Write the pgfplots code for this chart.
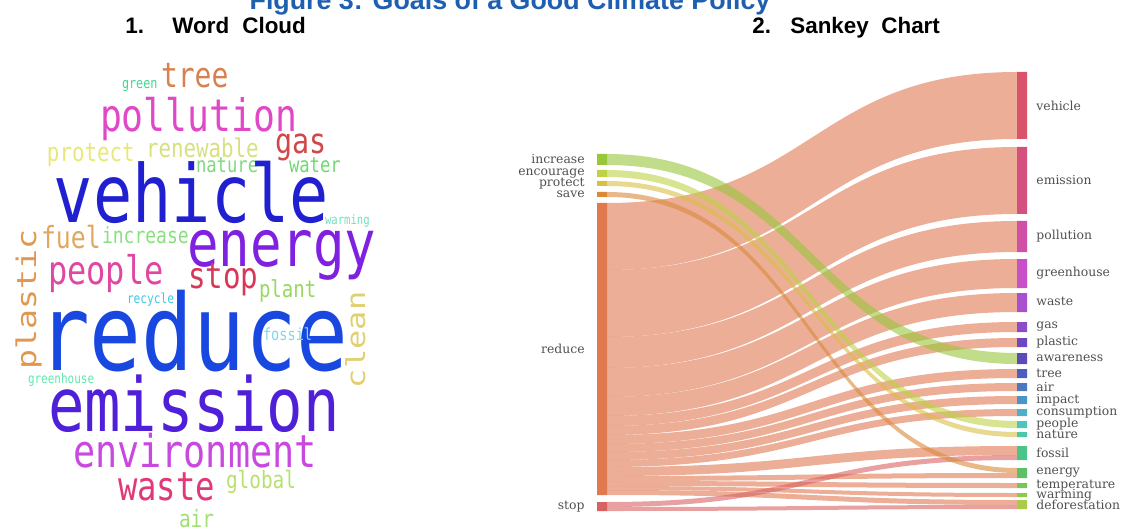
\documentclass[border=0pt]{standalone}
\usepackage{pgfplots}
\pgfplotsset{compat=1.18}
\usepackage{graphicx}
\usepackage{fontspec}
\setmainfont{Liberation Sans}
\newfontfamily\wcfont{DejaVu Sans Mono}
\newfontfamily\skfont{DejaVu Serif}

\definecolor{titleblue}{HTML}{1F5FAF}
\definecolor{labgray}{HTML}{505050}
% source nodes
\definecolor{cReduce}{HTML}{E07850}
\definecolor{cIncrease}{HTML}{9AC63C}
\definecolor{cEncourage}{HTML}{BED246}
\definecolor{cProtect}{HTML}{D9BE46}
\definecolor{cSave}{HTML}{D98939}
\definecolor{cStop}{HTML}{D96161}

% band from left node (x=607) to right node (x=1017), y in pixels
\newcommand\band[5]{%
  \fill[#5, fill opacity=0.6] (axis cs:607,#1) .. controls (axis cs:812,#1) and (axis cs:812,#3) .. (axis cs:1017,#3)
    -- (axis cs:1017,#4) .. controls (axis cs:812,#4) and (axis cs:812,#2) .. (axis cs:607,#2) -- cycle;}
% node bar: x0 x1 top bottom colour
\newcommand\nodebar[5]{%
  \xglobal\definecolor{nb#1x#3}{HTML}{#5}%
  \addplot[draw=none, fill=nb#1x#3] coordinates {(#1,#3) (#2,#3) (#2,#4) (#1,#4) (#1,#3)};}
\newcommand\rlab[2]{\node[anchor=west, inner sep=0pt, text=labgray, font=\skfont\fontsize{6.2}{7}\selectfont] at (axis cs:1036,#1) {#2};}
\newcommand\llab[2]{\node[anchor=east, inner sep=0pt, text=labgray, font=\skfont\fontsize{6.2}{7}\selectfont] at (axis cs:585,#1) {#2};}

\begin{document}
\begin{tikzpicture}
\useasboundingbox (0,0) rectangle (561.5pt,264.5pt);
\clip (0,0) rectangle (561.5pt,264.5pt);
\begin{axis}[
    at={(0,0)}, anchor=south west,
    scale only axis, width=561.5pt, height=264.5pt,
    xmin=0, xmax=1123, ymin=0, ymax=529, y dir=reverse,
    hide axis, clip=false,
  ]

% ---------- titles ----------
\node[anchor=base, inner sep=0pt, text=titleblue, font=\bfseries\fontsize{13.4}{16}\selectfont] at (axis cs:510,9.5) {Figure 3: Goals of a Good Climate Policy};
\node[anchor=base west, inner sep=0pt, font=\bfseries\fontsize{11.2}{13}\selectfont] at (axis cs:125,34) {1.};
\node[anchor=base west, inner sep=0pt, font=\bfseries\fontsize{11.2}{13}\selectfont] at (axis cs:172,34) {Word};
\node[anchor=base west, inner sep=0pt, font=\bfseries\fontsize{11.2}{13}\selectfont] at (axis cs:242,34) {Cloud};
\node[anchor=base west, inner sep=0pt, font=\bfseries\fontsize{11.2}{13}\selectfont] at (axis cs:752,34) {2.};
\node[anchor=base west, inner sep=0pt, font=\bfseries\fontsize{11.2}{13}\selectfont] at (axis cs:790,34) {Sankey};
\node[anchor=base west, inner sep=0pt, font=\bfseries\fontsize{11.2}{13}\selectfont] at (axis cs:881,34) {Chart};

% ---------- word cloud ----------
\addplot[only marks, mark=*, mark size=0pt, mark options={draw=none, fill=none},
    point meta=explicit symbolic,
    visualization depends on={value \thisrow{fs}\as\wfs},
    visualization depends on={value \thisrow{sx}\as\wsx},
    visualization depends on={value \thisrow{sy}\as\wsy},
    visualization depends on={value \thisrow{rot}\as\wrot},
    visualization depends on={value \thisrow{col}\as\wcol},
    nodes near coords={\color[HTML]{\wcol}\scalebox{\wsx}[\wsy]{\pgfplotspointmeta}},
    nodes near coords style={anchor=base west, inner sep=0pt, outer sep=0pt, rotate=\wrot,
      font=\wcfont\fontsize{\wfs}{\wfs}\selectfont},
  ] table[x=x, y=y, meta=word] {
x   y   fs   sx   sy   rot col    word
122 89  5.9  1    1.23 0   40D890 green
161 88  14   1    1.23 0   D88050 tree
100 132 18.2 1    1.23 0   E048C8 pollution
275 154 14.2 1    1.23 0   D04848 gas
146 158 10.4 1    1.23 0   D8E080 renewable
47  162 10.4 1    1.23 0   E8E878 protect
196 172 8.6  1    1.23 0   80D880 nature
289 172 8.6  1    1.23 0   70D870 water
54  222 32.6 1    1.23 0   2020D0 vehicle
325 224 5.3  1    1.23 0   70E0C0 warming
41  248 12.4 1    1.23 0   E0A860 fuel
102 243 9    1    1.23 0   88E080 increase
187 266 26.2 1    1.23 0   8020E0 energy
36  369 13.5 1.23 1    90  E09850 plastic
48  284 16   1    1.23 0   E048A0 people
188 288 14.6 1    1.23 0   D83858 stop
259 297 9.5  1    1.23 0   98D860 plant
127 303 5.6  1    1.23 0   40C8E8 recycle
38  370 43   1    1.23 0   1848E0 reduce
263 340 6.8  1    1.23 0   80D8E8 fossil
365 388 13   1.23 1    90  E0D070 clean
28  383 5.5  1    1.23 0   60E8B0 greenhouse
48  431 30.3 1    1.23 0   5020D8 emission
73  467 18.4 1    1.23 0   C848E0 environment
118 500 16.1 1    1.23 0   E03878 waste
226 488 9.7  1    1.23 0   B8E070 global
179 527 9.7  1    1.23 0   A0E070 air
};

% ---------- sankey bands: left top, left bottom, right top, right bottom ----------
\band{203}{270}{72}{139}{cReduce}
\band{270}{337}{147}{214}{cReduce}
\band{337}{368}{221}{252}{cReduce}
\band{368}{397}{259}{288}{cReduce}
\band{397}{416}{293}{312}{cReduce}
\band{416}{426}{322}{332}{cReduce}
\band{426}{435}{338}{347}{cReduce}
\band{435}{444}{369}{378}{cReduce}
\band{444}{452}{383}{391}{cReduce}
\band{452}{460}{396}{404}{cReduce}
\band{460}{467}{409}{416}{cReduce}
\band{467}{476}{446}{455}{cReduce}
\band{476}{481}{473}{478}{cReduce}
\band{481}{486}{483}{488}{cReduce}
\band{486}{490}{493}{497}{cReduce}
\band{490}{495}{500}{505}{cReduce}
\band{502}{507}{455}{460}{cStop}
\band{507}{511}{505}{509}{cStop}
\band{154}{165}{353}{364}{cIncrease}
\band{170}{177}{421}{428}{cEncourage}
\band{181}{186}{432}{437}{cProtect}
\band{192}{197}{468}{473}{cSave}

% ---------- source nodes ----------
\nodebar{597}{607}{154}{165}{9AC63C}
\nodebar{597}{607}{170}{177}{BED246}
\nodebar{597}{607}{181}{186}{D9BE46}
\nodebar{597}{607}{192}{197}{D98939}
\nodebar{597}{607}{203}{495}{E07850}
\nodebar{597}{607}{502}{511}{D96161}
\llab{159.5}{increase}
\llab{173.5}{encourage}
\llab{183.5}{protect}
\llab{194.5}{save}
\llab{349}{reduce}
\llab{506.5}{stop}

% ---------- target nodes ----------
\nodebar{1017}{1027}{72}{139}{D9546A}
\nodebar{1017}{1027}{147}{214}{D4507E}
\nodebar{1017}{1027}{221}{252}{D050A8}
\nodebar{1017}{1027}{259}{288}{C850C8}
\nodebar{1017}{1027}{293}{312}{A850D0}
\nodebar{1017}{1027}{322}{332}{8A4CC8}
\nodebar{1017}{1027}{338}{347}{6E48C0}
\nodebar{1017}{1027}{353}{364}{5A4CB8}
\nodebar{1017}{1027}{369}{378}{4C5CC0}
\nodebar{1017}{1027}{383}{391}{4C78C0}
\nodebar{1017}{1027}{396}{404}{4C94C8}
\nodebar{1017}{1027}{409}{416}{4CB0C8}
\nodebar{1017}{1027}{421}{428}{4CC4C0}
\nodebar{1017}{1027}{432}{437}{4CC8A8}
\nodebar{1017}{1027}{446}{460}{4CC488}
\nodebar{1017}{1027}{468}{478}{5CC068}
\nodebar{1017}{1027}{483}{488}{78C454}
\nodebar{1017}{1027}{493}{497}{90C848}
\nodebar{1017}{1027}{500}{509}{A8CC48}
\rlab{105.5}{vehicle}
\rlab{180.5}{emission}
\rlab{236.5}{pollution}
\rlab{273.5}{greenhouse}
\rlab{301}{waste}
\rlab{327}{gas}
\rlab{342.5}{plastic}
\rlab{358.5}{awareness}
\rlab{373.5}{tree}
\rlab{387}{air}
\rlab{400}{impact}
\rlab{412.5}{consumption}
\rlab{424.5}{people}
\rlab{434.5}{nature}
\rlab{453}{fossil}
\rlab{473}{energy}
\rlab{485.5}{temperature}
\rlab{495}{warming}
\rlab{504.5}{deforestation}

\end{axis}
\end{tikzpicture}
\end{document}
